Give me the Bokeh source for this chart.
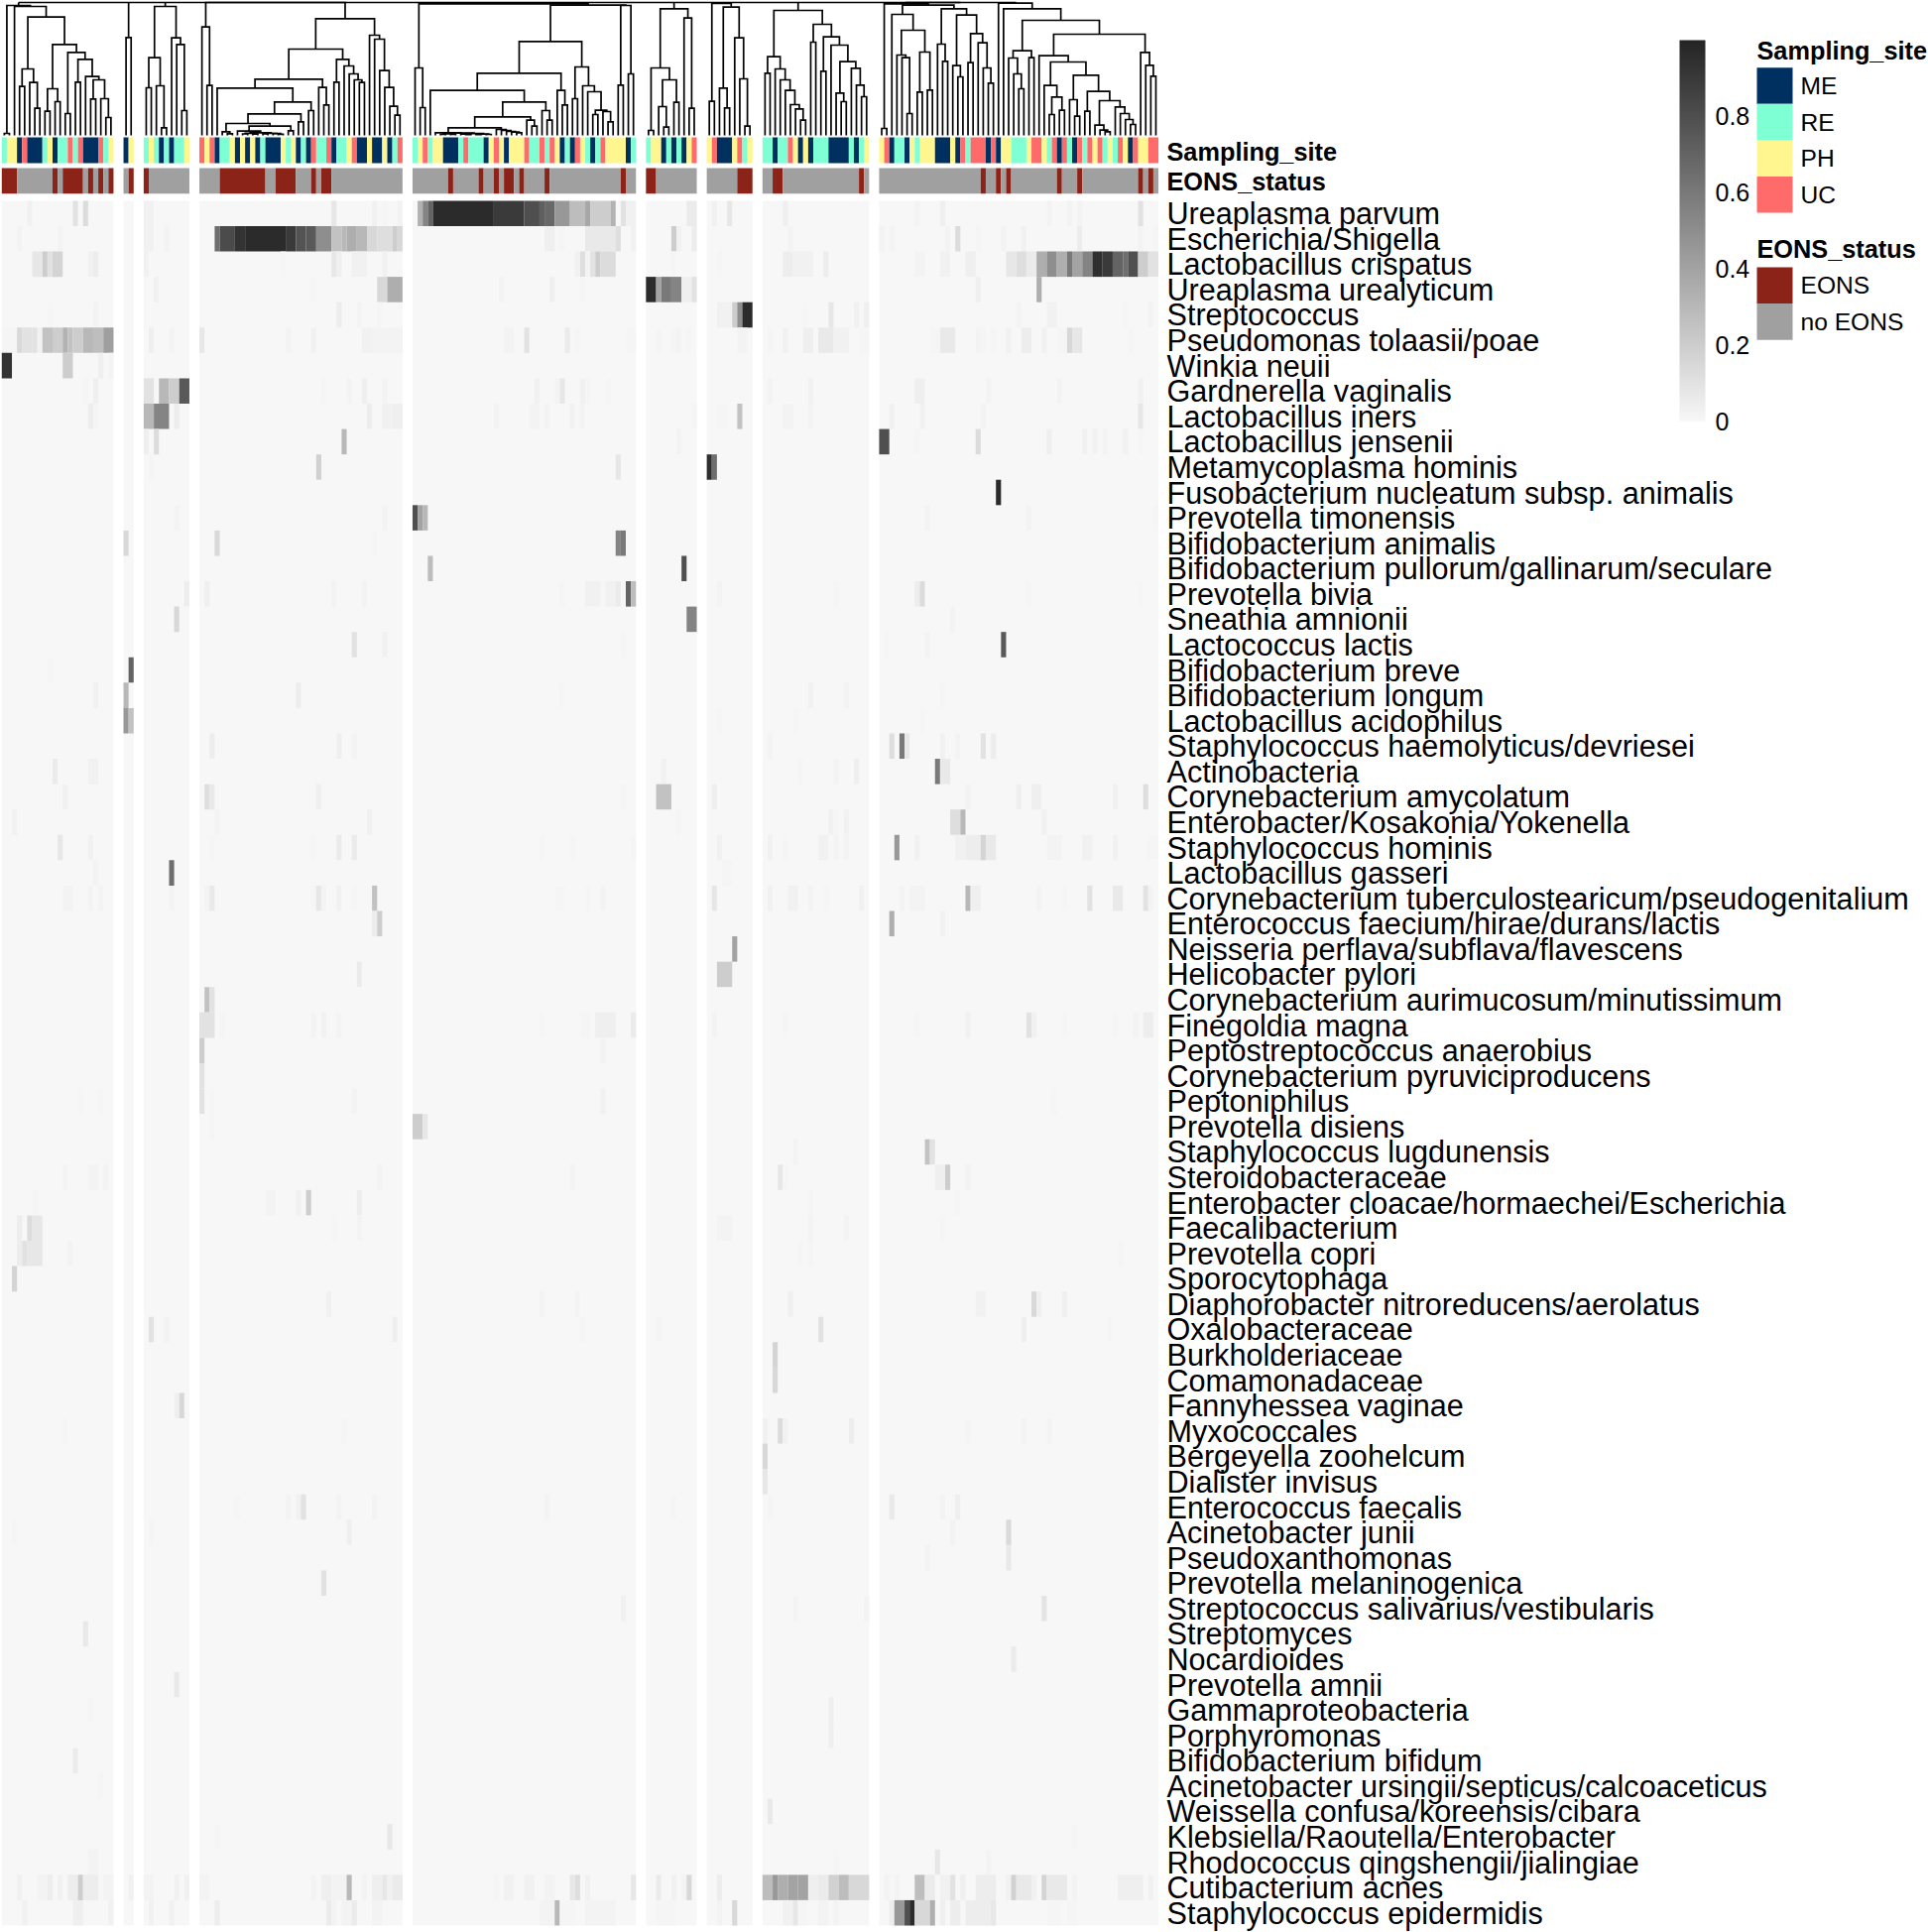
from bokeh.plotting import figure
from bokeh.models import Range1d, ColumnDataSource, LinearColorMapper, ColorBar, FixedTicker
from bokeh.core.properties import value
from bokeh.transform import transform
from bokeh.embed import file_html
from bokeh.resources import INLINE

# ---------- taxa (heatmap rows) ----------
TAXA = ["Ureaplasma parvum","Escherichia/Shigella","Lactobacillus crispatus","Ureaplasma urealyticum","Streptococcus",
"Pseudomonas tolaasii/poae","Winkia neuii","Gardnerella vaginalis","Lactobacillus iners","Lactobacillus jensenii",
"Metamycoplasma hominis","Fusobacterium nucleatum subsp. animalis","Prevotella timonensis","Bifidobacterium animalis",
"Bifidobacterium pullorum/gallinarum/seculare","Prevotella bivia","Sneathia amnionii","Lactococcus lactis",
"Bifidobacterium breve","Bifidobacterium longum","Lactobacillus acidophilus","Staphylococcus haemolyticus/devriesei",
"Actinobacteria","Corynebacterium amycolatum","Enterobacter/Kosakonia/Yokenella","Staphylococcus hominis",
"Lactobacillus gasseri","Corynebacterium tuberculostearicum/pseudogenitalium","Enterococcus faecium/hirae/durans/lactis",
"Neisseria perflava/subflava/flavescens","Helicobacter pylori","Corynebacterium aurimucosum/minutissimum","Finegoldia magna",
"Peptostreptococcus anaerobius","Corynebacterium pyruviciproducens","Peptoniphilus","Prevotella disiens",
"Staphylococcus lugdunensis","Steroidobacteraceae","Enterobacter cloacae/hormaechei/Escherichia","Faecalibacterium",
"Prevotella copri","Sporocytophaga","Diaphorobacter nitroreducens/aerolatus","Oxalobacteraceae","Burkholderiaceae",
"Comamonadaceae","Fannyhessea vaginae","Myxococcales","Bergeyella zoohelcum","Dialister invisus","Enterococcus faecalis",
"Acinetobacter junii","Pseudoxanthomonas","Prevotella melaninogenica","Streptococcus salivarius/vestibularis","Streptomyces",
"Nocardioides","Prevotella amnii","Gammaproteobacteria","Porphyromonas","Bifidobacterium bifidum",
"Acinetobacter ursingii/septicus/calcoaceticus","Weissella confusa/koreensis/cibara","Klebsiella/Raoutella/Enterobacter",
"Rhodococcus qingshengii/jialingiae","Cutibacterium acnes","Staphylococcus epidermidis"]

# ---------- sampling site per column, per slice ----------
SITES = ["RPPMUMMMRPMRRURUMMMURP","MP","RPRMRMRRP",
"UPUMRRPMPMPMRMMMPRPMRMURRUMRRPUMMPMMPMRU",
"RPURPPMMMRURRRMPUPMPPPURRURUPMRMUPRMRUPPPPMR",
"RPPMRMRMPU","PUMMMPURP","RRMRRUPMPMRRRMMMMRMRP",
"PUMRRMPRPPPMMMPMURUUUMUMPPRRRPUUPRUMURMURUPURPRUPMUPPUU"]

# ---------- EONS columns, per slice ----------
EONS = [[0,1,2,10,12,13,14,15,17,19,21],[1],[0],
[4,5,6,7,8,9,10,11,12,15,16,17,18,22,24,25],
[7,13,16,18,19,21,26,41],[0,1],[6,7,8],[2,3,19],[20,23,25,35,39,51,53]]

# ---------- abundance by row: (slice, col, value) or (slice, first col, last col, value) ----------
r01=[(1,5,.03),(1,14,.1),(1,16,.13),(3,0,1,.03),(4,26,.08),(4,34,.03),(4,36,.01),(4,39,.02),(5,1,.33),(5,2,.55),(5,3,.7),(5,4,15,.97),(5,16,21,.9),(5,22,24,.8),(5,25,.72),(5,26,27,.68),(5,28,30,.45),(5,31,33,.28),(5,34,.38),(5,35,38,.2),(5,39,.33),(5,41,.1),(5,42,43,.03),(6,8,9,.06),(7,1,.03),(7,4,.08),(8,4,.04),(9,7,.02),(9,12,.04),(9,33,.02),(9,37,.02),(9,39,.02),(9,51,.1)]
r02=[(1,3,.02),(1,11,.02),(3,0,1,.03),(3,4,.02),(4,3,.65),(4,4,6,.82),(4,7,8,.93),(4,9,16,.97),(4,17,18,.9),(4,19,20,.78),(4,21,22,.75),(4,23,25,.5),(4,26,27,.25),(4,28,.3),(4,29,30,.35),(4,31,32,.3),(4,33,34,.15),(4,35,37,.12),(4,38,.2),(4,39,.15),(5,26,27,.04),(5,29,.015),(5,34,39,.07),(5,40,.12),(5,43,.03),(6,5,.2),(6,6,.03),(6,9,.05),(8,5,.02),(9,0,.02),(9,2,.02),(9,13,.02),(9,15,.13),(9,19,.01),(9,24,.02),(9,28,.03),(9,39,.05),(9,51,.02),(9,54,.01)]
r03=[(1,6,7,.08),(1,8,.2),(1,9,.1),(1,10,11,.17),(1,17,.03),(1,18,.05),(3,0,.03),(4,16,.01),(4,26,.08),(4,27,.04),(4,30,32,.03),(4,36,.03),(5,32,.03),(5,33,.12),(5,34,.02),(5,35,.1),(5,36,.2),(5,37,39,.13),(6,5,.01),(7,2,.01),(8,4,5,.05),(8,6,9,.03),(8,12,.05),(9,7,8,.02),(9,12,13,.03),(9,17,18,.04),(9,25,26,.08),(9,27,28,.12),(9,29,30,.06),(9,31,32,.35),(9,33,34,.5),(9,35,36,.35),(9,37,.6),(9,38,39,.4),(9,40,41,.55),(9,42,43,.95),(9,44,45,.9),(9,46,47,.7),(9,48,.65),(9,49,50,.8),(9,51,52,.2),(9,53,54,.1)]
r04=[(3,2,.03),(4,22,.01),(4,35,36,.15),(4,37,39,.35),(5,17,.02),(5,27,.04),(5,33,.01),(6,0,1,.97),(6,2,.4),(6,3,4,.6),(6,5,6,.55),(6,7,8,.04),(6,9,.1),(9,19,.04),(9,31,.35)]
r05=[(1,9,.01),(1,18,.02),(4,27,.05),(4,31,.02),(4,35,.01),(7,2,4,.03),(7,5,.2),(7,6,.5),(7,7,8,.97),(8,8,.01),(8,13,.08),(8,18,.03),(8,20,.04),(9,27,.02),(9,33,34,.03),(9,48,.01),(9,53,.02)]
r06=[(1,0,2,.015),(1,3,.15),(1,4,5,.1),(1,6,.1),(1,7,.03),(1,8,9,.25),(1,10,11,.2),(1,12,.33),(1,13,.25),(1,14,15,.2),(1,16,17,.3),(1,18,19,.27),(1,20,21,.42),(3,1,.04),(3,5,.02),(4,0,.08),(4,17,.02),(4,22,.03),(4,32,33,.03),(4,34,.02),(4,35,39,.02),(5,18,19,.02),(5,22,.1),(5,30,.06),(5,32,.01),(5,42,43,.01),(6,2,.01),(6,5,.01),(6,6,.02),(6,8,.01),(7,6,7,.02),(8,1,.01),(8,4,.03),(8,8,9,.04),(8,11,13,.07),(8,14,16,.03),(8,19,20,.01),(9,10,11,.015),(9,12,14,.07),(9,19,.02),(9,20,.01),(9,22,.01),(9,25,.03),(9,28,29,.05),(9,32,.03),(9,35,36,.01),(9,37,.15),(9,38,39,.08),(9,49,.01)]
r07=[(1,0,1,.93),(1,12,13,.2),(1,19,.04),(1,21,.02)]
r08=[(1,16,.01),(1,18,.04),(3,0,1,.1),(3,3,4,.3),(3,5,6,.2),(3,7,8,.75),(4,24,.01),(4,29,.02),(4,32,.04),(4,36,.02),(5,24,.03),(5,28,.02),(5,29,.08),(5,33,.03),(5,34,.01),(5,38,.01),(8,1,.02),(8,9,.03),(9,7,8,.04),(9,21,.02),(9,35,.02),(9,51,.03)]
r09=[(1,17,.05),(1,18,.01),(3,0,1,.3),(3,2,4,.55),(3,6,.05),(4,33,.05),(4,36,37,.03),(4,38,39,.04),(5,16,.02),(5,23,24,.02),(5,26,.02),(5,31,.03),(5,33,.02),(6,9,.01),(7,2,3,.015),(7,6,.25),(8,4,5,.02),(8,9,.02),(9,2,.03),(9,8,.03),(9,20,.02),(9,51,.08)]
r10=[(3,0,.04),(3,2,.13),(4,28,.3),(6,6,.02),(9,0,1,.8),(9,7,.01),(9,19,.13),(9,33,.04),(9,40,.03),(9,42,.03),(9,44,.02),(9,48,.03),(9,51,.01)]
r11=[(3,1,.01),(4,23,.18),(5,40,.08),(7,0,.95),(7,1,.65)]
r12=[(9,23,.97)]
r13=[(3,6,.02),(4,36,.02),(5,0,.8),(5,1,.4),(5,2,.3),(9,9,.02),(9,29,.02),(9,54,.01)]
r14=[(2,0,.15),(4,3,.15),(4,34,.01),(5,40,.55),(5,41,.6)]
r15=[(5,3,.28),(6,7,.8)]
r16=[(3,8,.05),(4,1,.04),(4,26,.02),(4,32,.02),(5,29,.01),(5,34,36,.03),(5,38,39,.03),(5,40,.06),(5,42,.7),(5,43,.28),(7,2,.02),(8,14,.01),(9,7,.05),(9,8,.13),(9,29,.01),(9,51,.01)]
r17=[(3,6,.15),(6,8,9,.55),(9,14,.02)]
r18=[(4,30,.1),(4,36,.03),(5,41,.01),(9,1,.01),(9,9,.02),(9,24,.75)]
r19=[(1,9,.01),(2,1,.7)]
r20=[(1,18,.03),(2,0,.3),(4,19,.05),(5,29,.01),(8,9,.03),(8,16,.02),(9,12,.01)]
r21=[(2,0,.45),(2,1,.25),(7,2,.01),(8,6,.01),(9,8,.01)]
r22=[(4,2,.05),(4,27,.04),(4,30,.02),(8,1,.02),(9,2,.12),(9,4,.6),(9,5,.08),(9,12,.03),(9,15,.02),(9,20,.1),(9,22,.05)]
r23=[(1,10,.06),(1,17,18,.03),(6,3,.03),(8,7,.01),(8,14,.02),(8,18,.04),(9,11,.6),(9,12,13,.07)]
r24=[(1,12,.03),(4,1,.12),(4,2,.07),(4,23,.04),(5,41,.01),(6,2,4,.25),(7,1,.04),(9,17,.02),(9,27,.04),(9,30,31,.04),(9,46,.03),(9,52,.12)]
r25=[(1,2,.03),(4,3,.02),(4,33,.03),(6,6,.01),(8,13,.03),(8,14,.01),(8,16,.03),(9,14,15,.12),(9,16,.3),(9,32,.03)]
r26=[(1,11,.08),(1,17,.03),(4,2,.01),(4,22,.01),(4,27,.06),(4,30,.06),(5,25,.01),(5,31,.01),(5,43,.01),(7,2,.03),(8,1,.03),(8,4,.01),(8,11,12,.03),(8,14,.02),(8,16,.02),(9,3,.45),(9,7,.03),(9,15,16,.03),(9,17,19,.05),(9,20,.17),(9,21,22,.07),(9,33,35,.02),(9,40,41,.03),(9,46,.03),(9,53,54,.01)]
r27=[(1,18,.02),(3,5,.65),(7,3,4,.01)]
r28=[(1,12,13,.02),(1,17,.02),(1,19,.02),(3,5,.02),(4,1,.02),(4,2,.07),(4,22,.01),(4,23,.08),(4,24,.02),(4,27,.03),(4,30,.01),(4,34,.25),(5,28,29,.01),(5,34,.01),(5,37,.02),(7,1,.08),(8,1,.03),(8,5,6,.03),(8,9,.02),(8,12,.01),(8,19,.03),(9,4,.02),(9,6,8,.02),(9,17,.3),(9,18,19,.04),(9,31,.02),(9,36,.01),(9,41,.1),(9,46,47,.07),(9,52,.1),(9,53,.02)]
r29=[(4,34,.05),(4,35,.2),(9,2,.35),(9,12,.03)]
r30=[(7,5,.4)]
r31=[(4,31,.06),(7,2,4,.2)]
r32=[(4,1,.25),(4,2,.1)]
r33=[(4,0,2,.1),(4,4,.01),(4,22,.02),(4,24,.03),(4,27,.02),(5,25,.01),(5,33,.01),(5,34,.01),(5,36,39,.04),(5,43,.06),(7,1,.02),(8,4,.01),(9,7,.01),(9,17,.03),(9,29,.1),(9,30,.03),(9,36,.01),(9,46,.01),(9,50,.02),(9,52,53,.05)]
r34=[(4,0,.2),(5,37,.02)]
r35=[(4,0,.1)]
r36=[(1,15,.01),(1,19,.01),(4,0,.1),(4,2,.015),(4,30,.02),(5,37,.03),(9,34,.01)]
r37=[(4,2,.01),(5,0,1,.2),(5,2,.08)]
r38=[(8,6,.02),(9,9,.25),(9,10,.1)]
r39=[(1,12,.02),(1,17,18,.02),(1,20,.02),(4,35,.02),(5,31,.02),(8,3,.08),(8,4,.01),(9,11,12,.04),(9,13,.2),(9,17,.02)]
r40=[(1,6,.01),(4,13,14,.02),(4,19,.03),(4,21,.2),(4,31,.05),(8,9,.01),(9,15,.01)]
r41=[(1,3,.05),(1,5,.13),(1,6,7,.08),(4,26,.01),(4,31,.02),(7,2,4,.02),(8,9,.02),(8,16,.02),(9,12,.01)]
r42=[(1,3,.05),(1,4,.1),(1,5,7,.08),(1,13,.02),(8,7,.01),(8,9,.015),(9,47,.01)]
r43=[(1,2,.17)]
r44=[(4,25,.03),(5,25,.02),(5,32,.02),(8,5,.04),(9,19,20,.03),(9,30,.15),(9,31,.04),(9,36,.04)]
r45=[(3,1,.1),(3,4,.02),(4,38,.04),(5,33,.01),(6,2,.01),(8,11,.1),(9,28,.04),(9,45,.01)]
r46=[(8,2,.17)]
r47=[(8,2,.15)]
r48=[(3,6,.04),(3,7,.15)]
r49=[(1,12,.01),(4,28,.01),(8,0,.03),(8,3,.13),(8,4,.03),(8,17,.05),(9,17,.01),(9,28,.02),(9,33,.02)]
r50=[(8,0,.15)]
r51=[(8,0,.08)]
r52=[(4,7,.015),(4,17,.02),(4,19,.03),(4,20,.1),(4,27,.02),(4,34,.02),(5,26,.02),(6,5,.01),(8,1,.01),(9,2,.07),(9,12,.02),(9,15,.04)]
r53=[(1,2,.015),(3,1,.01),(4,29,.04),(9,14,.02),(9,25,.14)]
r54=[(9,9,.02),(9,25,.07)]
r55=[(4,24,.1)]
r56=[(5,41,.03),(8,6,.02),(8,20,.02),(9,32,.09)]
r57=[(1,16,.07)]
r58=[(9,26,.06)]
r59=[(3,6,.07)]
r60=[(1,17,.01),(8,13,.04)]
r61=[(8,13,.04)]
r62=[(1,14,.06)]
r63=[(1,19,.01)]
r64=[(8,1,.07)]
r65=[(4,3,.01),(4,37,.08),(9,38,.01)]
r66=[(1,17,18,.02),(8,14,.01),(9,11,.08),(9,21,.02)]
r67=[(1,3,.03),(1,7,8,.02),(1,9,.05),(1,11,.03),(1,13,14,.05),(1,15,.2),(1,16,18,.05),(1,20,21,.02),(2,1,.03),(3,0,1,.02),(3,6,.03),(3,8,.03),(4,0,1,.02),(4,22,.02),(4,24,25,.04),(4,26,28,.02),(4,29,.3),(4,32,.02),(4,34,35,.04),(4,36,.08),(4,37,.03),(4,38,39,.06),(5,16,.01),(5,18,19,.03),(5,22,23,.03),(5,26,27,.02),(5,31,.08),(5,32,.12),(5,34,.03),(5,43,.08),(6,2,.06),(6,5,.03),(6,7,.02),(6,8,.15),(7,2,.05),(8,0,1,.28),(8,2,.45),(8,3,4,.35),(8,5,6,.4),(8,7,8,.4),(8,9,10,.04),(8,11,12,.06),(8,13,14,.18),(8,15,16,.28),(8,17,20,.15),(9,1,.02),(9,3,.02),(9,7,8,.27),(9,9,10,.06),(9,12,13,.03),(9,14,.1),(9,16,.04),(9,19,22,.05),(9,25,.03),(9,26,.18),(9,27,29,.07),(9,30,.03),(9,32,.17),(9,33,36,.07),(9,38,.02),(9,47,51,.04),(9,53,.03)]
r68=[(1,4,.03),(1,14,15,.04),(1,21,.03),(3,1,.03),(3,5,.03),(4,3,.05),(4,25,.06),(4,26,.02),(4,28,29,.02),(4,30,.06),(4,34,35,.02),(5,25,27,.02),(5,28,.3),(5,29,31,.01),(5,34,39,.02),(6,2,5,.015),(7,2,.02),(7,5,.15),(8,4,5,.03),(8,6,.08),(8,7,8,.01),(8,11,12,.02),(8,14,.02),(9,2,.05),(9,3,4,.45),(9,5,.8),(9,6,.97),(9,7,9,.15),(9,10,.35),(9,12,.04),(9,14,15,.05),(9,17,21,.05),(9,22,.08),(9,33,35,.015),(9,37,38,.01)]
HEAT=[r01,r02,r03,r04,r05,r06,r07,r08,r09,r10,r11,r12,r13,r14,r15,r16,r17,r18,r19,r20,r21,r22,r23,r24,r25,r26,r27,r28,r29,r30,r31,r32,r33,r34,r35,r36,r37,r38,r39,r40,r41,r42,r43,r44,r45,r46,r47,r48,r49,r50,r51,r52,r53,r54,r55,r56,r57,r58,r59,r60,r61,r62,r63,r64,r65,r66,r67,r68]

# ---------- dendrograms: (height, left, right), 0 = leaf ----------
T1=(131,(2,0,0),(130,0,(119.3,(67,(49.3,0,0),(53.3,0,(27.3,0,0))),(91.7,(47,(24.3,0,0),(34,0,0)),(83.7,(22,0,0),(76.7,(53.7,0,0),(59.3,0,(56,(36.7,0,0),(37,0,(18,0,0))))))))))
T2=(98.7,0,0)
T3=(130,(78.3,(48,0,0),(50,0,(7.7,0,0))),(98.3,0,(91.7,0,(25,0,0))))
_t4=(4.3,0,(2.7,(2.2,(1.5,0,0),(1.4,0,0)),(2.0,(1.6,0,0),(1.8,0,(1.2,0,0)))))
T4=(134,(109.3,0,(50.3,0,0)),(117.7,(87,(56.7,(47.7,0,(33.7,(21.7,(12,(3.7,0,(1.7,0,0)),(9.3,_t4,(4.7,0,0))),(13.7,0,0)),(25,0,0))),(48.3,0,(30.7,0,0))),(76.7,(53.7,0,0),(70,0,(62,0,(56,0,(53.3,0,0)))))),(101,0,(97,0,(65.3,0,(48.3,0,(29.3,0,(20.3,0,0))))))))
_t5a=(2.7,0,(2.3,(1.6,(1.0,0,0),(1.1,0,0)),(1.9,(1.4,0,(0.8,0,0)),(1.3,(0.9,0,0),(1.0,0,0)))))
_t5b=(6,0,(5,0,(4,0,(3.3,0,(2.7,0,0)))))
T5=(132.7,(68,0,(28,0,0)),(131.3,(94.7,(62.7,(45.3,0,(33.7,(18.7,(7.7,_t5a,_t5b),(15.3,0,(9.3,0,0))),(25,0,(15.3,0,0)))),(45.3,0,(30.7,0,0))),(69,(37,0,0),(50,0,(44,0,(25.3,(21,0,0),(24,0,(13.7,0,0))))))),(131,(50.7,0,0),(62,0,0))))
T6=(127.7,(68,(5,0,0),(56,(29,0,(8.3,0,0)),(33.3,0,0))),(118.3,0,(27.3,0,0)))
T7=(133,(34.3,0,0),(129.3,(47.7,0,(27.7,0,0)),(98.3,0,(57,0,(9.3,0,0)))))
T8=(126,(79.3,(62.7,0,0),(67,0,(56,0,(45.3,0,(31,0,(26.7,0,(15.3,0,0))))))),(112,(94,0,0),(99.3,(64.7,0,0),(91,0,(74.3,(42.7,0,(34,0,0)),(67.7,0,(50.7,0,(39,0,0))))))))
_z=(131.3,(122,0,(106,(81,0,(78.3,0,(22,0,0))),(84,(43.7,0,0),(45.7,0,0)))),(127.7,(92,0,(74.7,0,0)),(121.3,(70.3,0,(59,0,0)),(102.7,(73.3,0,0),(93.3,0,(68,0,(52.7,0,0)))))))
_m=(116,(85.3,(78,0,(62,0,(47,0,0))),(78.3,0,0)),(102,(80.3,0,(74,(50.3,0,(38.7,(21,0,0),(25.3,0,0))),(60.7,(36,0,(19.3,0,0)),(44.3,(24.3,0,0),(35,(10.3,0,(5.3,0,(3.7,0,0))),(28.7,0,(22,0,(16,0,(11,0,0))))))))),(83.7,0,(70.7,0,(59.7,0,0)))))
T9=(134,(132.7,(7,0,0),_z),(133.3,0,(127.7,0,_m)))
TREES=[T1,T2,T3,T4,T5,T6,T7,T8,T9]
TOP_HEIGHT=134

# ---------- legend ----------
SITE_KEYS=["M","R","P","U"]
SITE_NAMES=["ME","RE","PH","UC"]
SITE_COLORS={"M":"#00305F","R":"#7FFFD4","P":"#FFF68F","U":"#FF6A6A"}
EONS_NAMES=["EONS","no EONS"]
EONS_COLORS=["#8C2318","#A0A0A0"]
LEGEND_TICKS=[0,0.2,0.4,0.6,0.8]

# ---------- layout ----------
W,H=1944,1948
CW=5.12; GAP=10.1/CW; X0=1.3
RH=25.575; Y0=201.9
FONT=value("Liberation Sans")

p=figure(width=W,height=H,output_backend="svg",toolbar_location=None,
         x_range=Range1d(-X0/CW,(W-X0)/CW),
         y_range=Range1d((H-Y0)/RH,-Y0/RH),
         min_border=0,outline_line_color=None)
p.axis.visible=False
p.grid.visible=False
p.extra_x_ranges={"px":Range1d(0,W)}
p.extra_y_ranges={"px":Range1d(H,0),"dendro":Range1d(136-H,136)}

sizes=[len(s) for s in SITES]
def pos(sl,c):
    return sum(sizes[:sl])+sl*GAP+c

mapper=LinearColorMapper(low=0,high=1,palette=["#%02x%02x%02x"%(g,g,g) for g in [round(247-(247-37)*i/255) for i in range(256)]])

# heatmap background per slice
p.quad(left=[pos(i,0) for i in range(9)],right=[pos(i,sizes[i]) for i in range(9)],
       top=[0]*9,bottom=[len(TAXA)]*9,fill_color="#F7F7F7",line_color=None)

# heatmap cells
L,R,T,B,V=[],[],[],[],[]
for r,cells in enumerate(HEAT):
    for c in cells:
        if len(c)==3:
            s,a,v=c; b=a
        else:
            s,a,b,v=c
        L.append(pos(s-1,a));R.append(pos(s-1,b+1));T.append(r);B.append(r+1);V.append(v)
src=ColumnDataSource(dict(left=L,right=R,top=T,bottom=B,v=V))
p.quad(left="left",right="right",top="top",bottom="bottom",source=src,
       fill_color=transform("v",mapper),line_color=None)

# annotation tracks (adjacent columns of one class drawn as one block)
def track(labels,colour,band):
    al,ar,ac=[],[],[]
    for i,lab in enumerate(labels):
        k=0
        while k<len(lab):
            e=k
            while e+1<len(lab) and lab[e+1]==lab[k]:
                e+=1
            al.append(pos(i,k));ar.append(pos(i,e+1));ac.append(colour[lab[k]])
            k=e+1
    p.quad(left=al,right=ar,top=[band[0]]*len(al),bottom=[band[1]]*len(al),fill_color=ac,line_color=None,y_range_name="px")
ANN_SITE=(138,164); ANN_EONS=(169,194.7)
track(SITES,SITE_COLORS,ANN_SITE)
eons_labels=[[int(k in EONS[i]) for k in range(n)] for i,n in enumerate(sizes)]
track(eons_labels,{1:EONS_COLORS[0],0:EONS_COLORS[1]},ANN_EONS)

# dendrograms
xs,ys=[],[]
def walk(node,sl,state):
    if node==0:
        x=pos(sl,state[0])+0.5; state[0]+=1
        return x,0
    h,l,r=node
    xl,hl=walk(l,sl,state); xr,hr=walk(r,sl,state)
    xs.append([xl,xl,xr,xr]); ys.append([hl,h,h,hr])
    return (xl+xr)/2,h
roots=[]
for i,t in enumerate(TREES):
    roots.append(walk(t,i,[0]))
for x,h in roots:
    if h<TOP_HEIGHT:
        xs.append([x,x]); ys.append([h,TOP_HEIGHT])
xs.append([roots[0][0],roots[-1][0]]); ys.append([TOP_HEIGHT,TOP_HEIGHT])
p.multi_line(xs,ys,line_color="#000000",line_width=1.7,y_range_name="dendro",line_join="miter")

# row labels
p.text(x=[1176]*len(TAXA),y=[i+0.5 for i in range(len(TAXA))],text=TAXA,x_range_name="px",
       text_font=FONT,text_font_size="30.6px",text_baseline="middle",text_color="#000000")
# annotation labels
p.text(x=[1176,1176],y=[152,182.7],text=["Sampling_site","EONS_status"],x_range_name="px",y_range_name="px",
       text_font=FONT,text_font_size="25.3px",text_font_style="bold",text_baseline="middle",text_color="#000000")

# legends
LX=(1771,1807); SH=36.6
p.text(x=[LX[0]],y=[50],text=["Sampling_site"],x_range_name="px",y_range_name="px",text_font=FONT,text_font_size="25.3px",text_font_style="bold",text_baseline="middle")
for i,(k,n) in enumerate(zip(SITE_KEYS,SITE_NAMES)):
    t=67.7+i*SH
    p.quad(left=[LX[0]],right=[LX[1]],top=[t],bottom=[t+SH],fill_color=SITE_COLORS[k],line_color=None,x_range_name="px",y_range_name="px")
    p.text(x=[1815],y=[t+SH/2],text=[n],x_range_name="px",y_range_name="px",text_font=FONT,text_font_size="24.6px",text_baseline="middle")
p.text(x=[LX[0]],y=[250.7],text=["EONS_status"],x_range_name="px",y_range_name="px",text_font=FONT,text_font_size="25.3px",text_font_style="bold",text_baseline="middle")
for i,(c,n) in enumerate(zip(EONS_COLORS,EONS_NAMES)):
    t=269+i*SH
    p.quad(left=[LX[0]],right=[LX[1]],top=[t],bottom=[t+SH],fill_color=c,line_color=None,x_range_name="px",y_range_name="px")
    p.text(x=[1815],y=[t+SH/2],text=[n],x_range_name="px",y_range_name="px",text_font=FONT,text_font_size="24.6px",text_baseline="middle")

# colour bar
cb=ColorBar(color_mapper=mapper,location=(1693,H-424),width=26,height=384,padding=0,
            ticker=FixedTicker(ticks=LEGEND_TICKS),major_tick_line_color=None,minor_tick_line_color=None,
            bar_line_color=None,border_line_color=None,background_fill_alpha=0,
            label_standoff=10,major_label_text_font="Liberation Sans",major_label_text_font_size="25px",
            major_label_text_color="#000000")
p.add_layout(cb,"center")

open("out.html","w").write(file_html(p,INLINE))
